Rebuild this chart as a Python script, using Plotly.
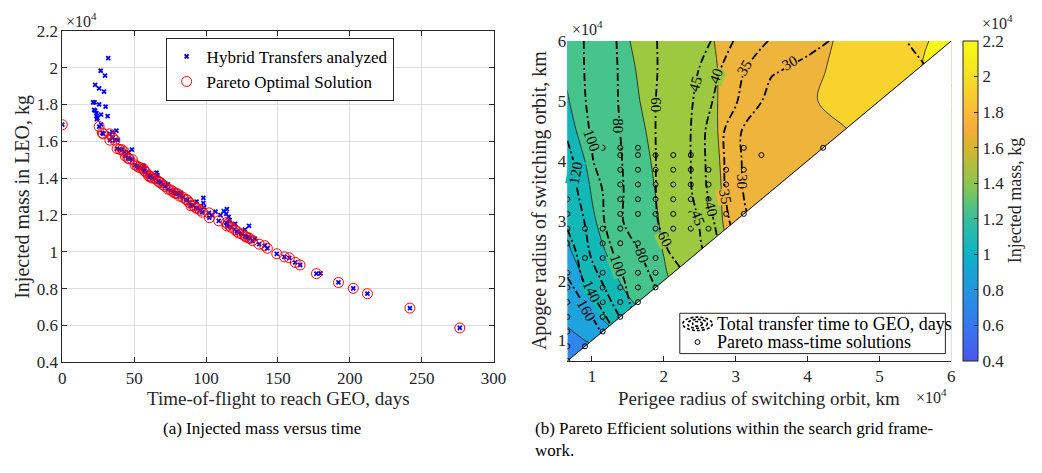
import plotly.graph_objects as go

W, H = 1042, 473
FONT = "Liberation Serif"
INK = "#262626"


def fx(p):
    return p / W


def fy(p):
    return 1 - p / H


# ---------------- Left panel data (mass in 1e4 kg, time in days) ----------------
tof_pareto = [0, 25.6, 27.8, 28.5, 32.9, 33.1, 35.0, 36.5, 38.1, 40.0, 41.5, 43.1, 43.8, 45.6,
              46.5, 48.8, 50.6, 52.0, 53.4, 55.0, 56.4, 57.0, 58.0, 59.8, 60.9, 61.5, 62.5, 64.8,
              66.6, 67.5, 68.4, 70.0, 71.5, 73.5, 75.5, 76.9, 78.0, 79.0, 80.3, 81.5, 84.0, 86.0,
              87.0, 88.3, 89.4, 91.0, 92.8, 94.0, 96.0, 97.4, 102.0, 102.3, 108.8, 114.0, 114.5,
              115.0, 117.3, 120.0, 121.4, 122.5, 125.0, 127.0, 128.0, 129.4, 130.5, 132.3, 136.9,
              140.8, 142.6, 149.2, 154.5, 157.9, 162.0, 165.4, 176.8, 192.1, 202.4, 212.2, 241.8,
              276.5]
mass_pareto = [1.69, 1.68, 1.645, 1.64, 1.64, 1.606, 1.62, 1.606, 1.56, 1.556, 1.554, 1.543, 1.52,
               1.508, 1.505, 1.50, 1.472, 1.465, 1.458, 1.455, 1.45, 1.44, 1.432, 1.415, 1.406,
               1.41, 1.40, 1.397, 1.383, 1.378, 1.375, 1.363, 1.355, 1.34, 1.335, 1.328, 1.319,
               1.318, 1.314, 1.302, 1.295, 1.284, 1.28, 1.267, 1.25, 1.25, 1.238, 1.235, 1.225,
               1.215, 1.211, 1.185, 1.168, 1.158, 1.14, 1.15, 1.133, 1.12, 1.111, 1.102, 1.095,
               1.085, 1.08, 1.076, 1.072, 1.06, 1.041, 1.033, 1.019, 0.989, 0.972, 0.967, 0.942,
               0.928, 0.881, 0.833, 0.801, 0.772, 0.694, 0.586]
tof_extra = [31.9, 26.7, 29.7, 22.8, 25.6, 29.0, 21.4, 22.4, 25.6, 30.1, 22.1, 22.8, 23.7, 26.9,
             23.7, 31.5, 24.4, 37.6, 34.7, 38.6, 48.4, 46.1, 56.4, 65.5, 66.2, 98.1, 98.1, 98.6,
             106.5, 112.3, 114.5, 114.0, 115.7, 116.4, 120.2, 127.0, 129.9, 133.9, 179.6, 110.0,
             104.0, 93.3, 73.5, 82.6, 24.0, 27.0]
mass_extra = [2.052, 1.983, 1.957, 1.906, 1.887, 1.87, 1.811, 1.811, 1.80, 1.788, 1.771, 1.766,
              1.753, 1.745, 1.736, 1.736, 1.727, 1.658, 1.649, 1.606, 1.554, 1.54, 1.467, 1.429,
              1.415, 1.293, 1.264, 1.241, 1.218, 1.22, 1.232, 1.206, 1.189, 1.172, 1.151, 1.12,
              1.141, 1.071, 0.883, 1.199, 1.198, 1.272, 1.366, 1.319, 1.72, 1.69]
tof_all = tof_pareto + tof_extra
mass_all = mass_pareto + mass_extra

x_ticks_left = [0, 50, 100, 150, 200, 250, 300]
y_ticks_left = [0.4, 0.6, 0.8, 1.0, 1.2, 1.4, 1.6, 1.8, 2.0, 2.2]

# ---------------- Right panel data (radii in 1e4 km) ----------------
r_nodes = [0.6578, 1.0, 1.5, 2.0, 2.5, 3.0, 3.5, 4.0, 4.5, 5.0, 5.5, 6.0]
# injected mass (1e4 kg), rows = apogee radius, columns = perigee radius
mass_grid = [
    [0.59, 0.72, 0.98, 1.15, 1.30, 1.45, 1.55, 1.65, 1.72, 1.81, 1.88, 1.95],
    [0.75, 0.82, 1.03, 1.21, 1.34, 1.48, 1.58, 1.66, 1.74, 1.82, 1.90, 1.96],
    [0.86, 0.99, 1.15, 1.30, 1.43, 1.54, 1.62, 1.70, 1.76, 1.84, 1.91, 1.97],
    [0.90, 1.05, 1.25, 1.38, 1.50, 1.61, 1.67, 1.73, 1.79, 1.85, 1.92, 1.97],
    [0.97, 1.16, 1.27, 1.405, 1.52, 1.62, 1.69, 1.74, 1.79, 1.86, 1.92, 1.97],
    [1.05, 1.19, 1.28, 1.42, 1.53, 1.64, 1.70, 1.75, 1.805, 1.86, 1.92, 1.97],
    [1.12, 1.205, 1.31, 1.43, 1.54, 1.64, 1.70, 1.75, 1.805, 1.86, 1.92, 1.97],
    [1.15, 1.22, 1.33, 1.44, 1.55, 1.64, 1.70, 1.75, 1.805, 1.86, 1.92, 1.97],
    [1.18, 1.235, 1.35, 1.45, 1.55, 1.65, 1.72, 1.78, 1.79, 1.86, 1.93, 1.98],
    [1.195, 1.26, 1.37, 1.46, 1.55, 1.65, 1.72, 1.78, 1.85, 1.90, 1.95, 2.01],
    [1.21, 1.28, 1.38, 1.47, 1.55, 1.65, 1.71, 1.77, 1.83, 1.90, 1.99, 2.04],
    [1.24, 1.30, 1.395, 1.48, 1.56, 1.66, 1.71, 1.75, 1.82, 1.90, 1.97, 2.05],
]
# total transfer time (days)
time_grid = [
    [276, 220, 158, 121, 90, 70, 55, 45, 41, 37, 35, 35],
    [230, 180, 130, 101, 75, 58, 45, 36, 33, 31, 31, 32],
    [185, 155, 103, 82, 62, 48, 38, 30.5, 28, 27, 28, 31],
    [161, 128, 97, 72, 55, 42, 32, 25, 24, 24, 26, 29],
    [152, 116, 88, 62, 46, 36, 28, 20, 20, 22, 25, 28],
    [135, 113, 75, 57, 44.5, 33, 25, 16, 18, 21, 24, 28],
    [127, 110, 76, 55.5, 42, 32, 22, 10, 14, 18, 23, 27],
    [126, 101, 76, 55.5, 41.5, 32, 20, 5, 10, 16, 22, 27],
    [117, 98, 75, 55.5, 41.5, 32, 20, 12, 8, 14, 20, 26],
    [112, 96, 74, 56, 42.5, 35.5, 28, 25, 22, 21, 24, 28],
    [111, 95, 74, 57, 44.5, 36.5, 30.5, 28.5, 26, 25, 28.5, 32],
    [110, 95, 73, 57, 47.5, 39.5, 34.5, 31.5, 29, 27, 31, 34],
]
time_levels_short = (30, 45, 5)    # start, end, step
time_levels_long = (60, 160, 20)

# contour labels of the time lines: level value and where it sits (perigee, apogee)
label_level = [100, 80, 60, 45, 40, 35, 30, 120, 80, 100, 60, 45, 40, 35, 30, 140, 160]
label_rp = [0.99, 1.36, 1.89, 2.44, 2.73, 3.12, 3.75, 0.77, 1.69, 1.37, 2.02, 2.48, 2.66, 2.86, 3.09, 0.99, 0.93]
label_ra = [4.34, 4.58, 4.93, 5.28, 5.41, 5.55, 5.64, 3.80, 2.42, 2.25, 2.70, 3.05, 3.20, 3.40, 3.66, 1.82, 1.50]

pareto_rp = [0.658] * 11 + [0.903] * 5 + [1.149] * 9 + [1.394] * 13 + [1.640] * 10 + \
            [1.885] * 9 + [2.131] * 6 + [2.376] * 6 + [2.622] * 5 + [2.867] * 4 + \
            [3.113] * 3 + [3.358] + [4.216]
pareto_ra = [0.658, 0.903, 1.149, 1.394, 1.640, 1.885, 2.131, 2.622, 2.867, 3.113, 3.358,
             0.903, 1.640, 1.885, 2.376, 2.867,
             1.149, 1.394, 1.640, 1.885, 2.131, 2.376, 2.622, 2.867, 4.216,
             1.394, 1.640, 1.885, 2.131, 2.376, 2.622, 2.867, 3.113, 3.358, 3.604, 3.850, 4.095, 4.216,
             1.640, 1.885, 2.131, 2.622, 3.113, 3.358, 3.604, 3.850, 4.095, 4.216,
             1.885, 2.131, 2.376, 2.867, 3.113, 3.358, 3.604, 3.850, 4.095,
             2.867, 3.113, 3.358, 3.604, 3.850, 4.095,
             2.867, 3.113, 3.358, 3.604, 3.850, 4.095,
             2.867, 3.113, 3.358, 3.604, 3.850,
             3.113, 3.358, 3.604, 3.850,
             3.113, 3.850, 4.216,
             4.095,
             4.216]

r_ticks = [1, 2, 3, 4, 5, 6]
cbar_ticks = [0.4, 0.6, 0.8, 1.0, 1.2, 1.4, 1.6, 1.8, 2.0, 2.2]
cbar_text = ["0.4", "0.6", "0.8", "1", "1.2", "1.4", "1.6", "1.8", "2", "2.2"]

# band colours of the filled mass contours (<0.8, 0.8-1.0, ..., >=2.0)
band_colors = ["#2e86ee", "#1fa3dc", "#12b8b6", "#47c48c", "#9cc93f", "#efb43b", "#f7d32c", "#f8f61b"]
parula_like = [
    [0.0, "#4a56ee"], [0.111, "#3578f0"], [0.222, "#2495e0"], [0.333, "#0cb2c8"],
    [0.444, "#36bf9a"], [0.556, "#8fc64c"], [0.667, "#d6b52f"], [0.722, "#f6ab3c"],
    [0.778, "#fbba38"], [0.889, "#f4e025"], [1.0, "#f9fb14"],
]
# label styling: rotation and the band colour behind each label
label_angle = [70, 90, 90, -75, -70, -60, -30, -80, 70, 70, 65, 70, 75, 80, 90, 65, 60]
label_bg = [3, 3, 4, 4, 4, 5, 5, 2, 3, 3, 4, 4, 4, 5, 5, 2, 1]

nb = len(band_colors) - 1
band_scale = [[i / nb, c] for i, c in enumerate(band_colors)]

fig = go.Figure()

# ---------- left panel ----------
fig.add_trace(go.Scatter(
    x=tof_all, y=mass_all, mode="markers", name="Hybrid Transfers analyzed",
    marker=dict(symbol="x-thin", size=4, color="#0000ff", line=dict(color="#0000ff", width=1.8)),
    xaxis="x", yaxis="y", legend="legend"))
fig.add_trace(go.Scatter(
    x=tof_pareto, y=mass_pareto, mode="markers", name="Pareto Optimal Solution",
    marker=dict(symbol="circle-open", size=10, color="#ff0000", line=dict(color="#ff0000", width=1)),
    xaxis="x", yaxis="y", legend="legend"))

# ---------- right panel ----------
fig.add_trace(go.Contour(
    x=r_nodes, y=r_nodes, z=mass_grid, xaxis="x2", yaxis="y2",
    contours=dict(start=0.8, end=2.05, size=0.2, coloring="fill"),
    colorscale=band_scale, showscale=False, showlegend=False,
    line=dict(color="#1a1a1a", width=0.8, smoothing=1.0), hoverinfo="skip"))

for (s, e, st) in (time_levels_short, time_levels_long):
    fig.add_trace(go.Contour(
        x=r_nodes, y=r_nodes, z=time_grid, xaxis="x2", yaxis="y2",
        contours=dict(start=s, end=e, size=st, coloring="none", showlabels=False),
        showscale=False, showlegend=False,
        line=dict(color="black", width=1.8, dash="8px,3px,2px,3px", smoothing=1.0),
        hoverinfo="skip"))

# white lower triangle (infeasible: apogee < perigee)
fig.add_trace(go.Scatter(
    x=[0.55, 6.3, 6.3, 0.55, 0.55], y=[0.55, 6.3, 0.4, 0.4, 0.55], mode="lines",
    fill="toself", fillcolor="white", line=dict(width=0, color="white"),
    xaxis="x2", yaxis="y2", showlegend=False, hoverinfo="skip"))
fig.add_trace(go.Scatter(
    x=[r_nodes[0], r_nodes[-1]], y=[r_nodes[0], r_nodes[-1]], mode="lines",
    line=dict(color="black", width=1), xaxis="x2", yaxis="y2", showlegend=False, hoverinfo="skip"))
fig.add_trace(go.Scatter(
    x=pareto_rp, y=pareto_ra, mode="markers",
    marker=dict(symbol="circle-open", size=5, color="black", line=dict(color="black", width=1)),
    xaxis="x2", yaxis="y2", showlegend=False, hoverinfo="skip"))

# colour bar
fig.add_trace(go.Scatter(
    x=[None], y=[None], mode="markers", xaxis="x2", yaxis="y2", showlegend=False,
    marker=dict(color=[0.4], cmin=0.4, cmax=2.2, colorscale=parula_like, showscale=True,
                colorbar=dict(x=fx(975), xanchor="left", xpad=0, ypad=0, thickness=15,
                              len=(366.7 - 33.3) / H, lenmode="fraction", y=fy(33.3), yanchor="top",
                              outlinewidth=1, outlinecolor=INK, ticks="inside", ticklen=4,
                              tickcolor=INK, tickvals=cbar_ticks, ticktext=cbar_text,
                              tickfont=dict(family=FONT, size=17, color=INK))),
    hoverinfo="skip"))

axis_font = dict(family=FONT, size=17, color=INK)
fig.update_layout(
    width=W, height=H, margin=dict(l=0, r=0, t=0, b=0),
    paper_bgcolor="white", plot_bgcolor="white",
    font=dict(family=FONT, size=17, color=INK),
    xaxis=dict(domain=[fx(59.3), fx(497.7)], range=[0, 300], tickvals=x_ticks_left,
               showgrid=True, gridcolor="#dedede", gridwidth=1, zeroline=False,
               showline=True, linecolor=INK, linewidth=1, mirror="ticks",
               ticks="inside", ticklen=5, tickcolor=INK, tickfont=axis_font, anchor="y"),
    yaxis=dict(domain=[fy(368), fy(22.7)], range=[0.4, 2.2], tickvals=y_ticks_left,
               showgrid=True, gridcolor="#dedede", gridwidth=1, zeroline=False,
               showline=True, linecolor=INK, linewidth=1, mirror="ticks",
               ticks="inside", ticklen=5, tickcolor=INK, tickfont=axis_font, anchor="x"),
    xaxis2=dict(domain=[fx(572.7), fx(963)], range=[r_nodes[0], r_nodes[-1]], tickvals=r_ticks,
                showgrid=False, zeroline=False, showline=True, linecolor=INK, linewidth=1,
                ticks="inside", ticklen=5, tickcolor=INK, tickfont=axis_font, anchor="y2"),
    yaxis2=dict(domain=[fy(366.7), fy(33.3)], range=[r_nodes[0], r_nodes[-1]], tickvals=r_ticks,
                showgrid=False, zeroline=False, showline=False, ticks="",
                tickfont=axis_font, anchor="x2"),
    legend=dict(x=fx(164.3), y=fy(30), xanchor="left", yanchor="top",
                bgcolor="white", bordercolor=INK, borderwidth=1,
                font=dict(family=FONT, size=17, color="black"), tracegroupgap=0),
)

ann = []


def text(x, y, s, size=16, xa="center", ya="middle", angle=0, color=INK):
    ann.append(dict(x=fx(x), y=fy(y), xref="paper", yref="paper", text=s, showarrow=False,
                    xanchor=xa, yanchor=ya, textangle=angle,
                    font=dict(family=FONT, size=size, color=color)))


text(61, 11, "×10<sup>4</sup>", 16, xa="left")
text(279, 406, "Time-of-flight to reach GEO, days", 19)
text(18, 196, "Injected mass in LEO, kg", 20, angle=-90)
text(575, 20, "×10<sup>4</sup>", 16, xa="left")
text(992, 14, "×10<sup>4</sup>", 16, xa="left")
text(925, 403, "×10<sup>4</sup>", 16, xa="left")
text(768, 406, "Perigee radius of switching orbit, km", 19)
text(545, 200, "Apogee radius of switching orbit, km", 20, angle=-90)
text(1028, 200, "Injected mass, kg", 18, angle=-90)
text(262, 437, "(a) Injected mass versus time", 17, color="black")
text(538, 437, "(b) Pareto Efficient solutions within the search grid frame-", 17, xa="left", color="black")
text(538, 460, "work.", 17, xa="left", color="black")
# right legend text
text(723, 328, "Total transfer time to GEO, days", 18, xa="left", color="black")
text(723, 347, "Pareto mass-time solutions", 18, xa="left", color="black")

# contour labels
for lv, xr, yr, ang, bg in zip(label_level, label_rp, label_ra, label_angle, label_bg):
    ann.append(dict(x=xr, y=yr, xref="x2", yref="y2", text=str(lv), showarrow=False,
                    textangle=ang, bgcolor=band_colors[bg], borderpad=0,
                    font=dict(family=FONT, size=15, color="black")))

shapes = [
    dict(type="rect", xref="paper", yref="paper", x0=fx(687), x1=fx(957), y0=fy(359), y1=fy(317),
         line=dict(color=INK, width=1), fillcolor="white", layer="above"),
]
for rx, ry in ((15, 7), (10, 4.7), (5, 2.4)):
    shapes.append(dict(type="circle", xref="paper", yref="paper",
                       x0=fx(705 - rx), x1=fx(705 + rx), y0=fy(328 + ry), y1=fy(328 - ry),
                       line=dict(color="black", width=1.6, dash="3px,2px")))
shapes.append(dict(type="circle", xref="paper", yref="paper",
                   x0=fx(702.5), x1=fx(707.5), y0=fy(349.5), y1=fy(344.5),
                   line=dict(color="black", width=1)))

fig.update_layout(annotations=ann, shapes=shapes)
fig.write_html("out.html")
